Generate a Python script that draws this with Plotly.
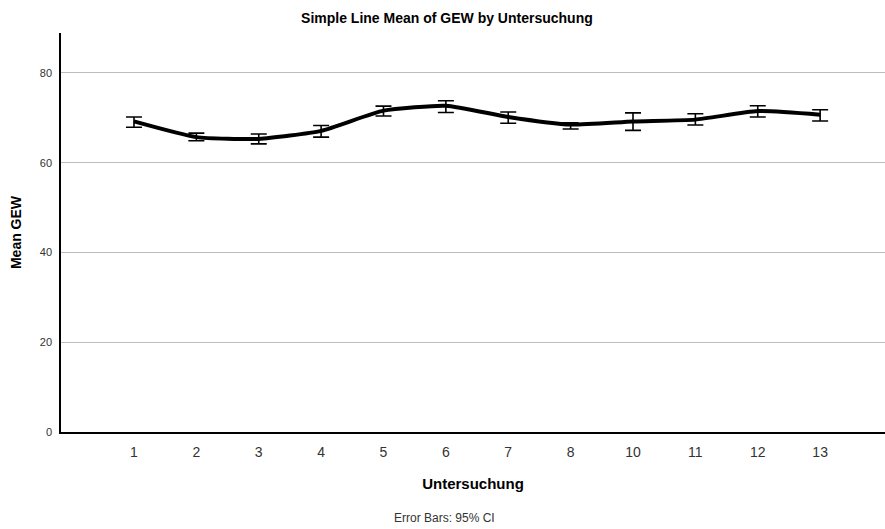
import plotly.graph_objects as go

categories = ["1", "2", "3", "4", "5", "6", "7", "8", "10", "11", "12", "13"]
means = [69.2, 65.7, 65.3, 67.1, 71.6, 72.7, 70.2, 68.5, 69.2, 69.6, 71.5, 70.7]
ci_upper = [70.2, 66.6, 66.4, 68.3, 72.6, 73.8, 71.3, 68.9, 71.1, 70.9, 72.7, 71.8]
ci_lower = [67.9, 64.9, 64.2, 65.7, 70.4, 71.2, 68.8, 67.5, 67.2, 68.4, 70.2, 69.3]
y_ticks = [0, 20, 40, 60, 80]

err_plus = [u - m for u, m in zip(ci_upper, means)]
err_minus = [m - l for m, l in zip(means, ci_lower)]

fig = go.Figure()
fig.add_trace(go.Scatter(
    x=categories, y=means, mode="lines",
    line=dict(color="black", width=4, shape="spline", smoothing=0.5),
    error_y=dict(type="data", symmetric=False, array=err_plus, arrayminus=err_minus,
                 color="black", thickness=1.6, width=8),
    showlegend=False,
))

fig.update_layout(
    width=885, height=529,
    margin=dict(l=61, r=0, t=33, b=97, autoexpand=False),
    paper_bgcolor="white", plot_bgcolor="white",
    font=dict(family="Liberation Sans, Arial, sans-serif", color="#222"),
    title=dict(text="<b>Simple Line Mean of GEW by Untersuchung</b>",
               x=0.505, xanchor="center", yref="container", y=0.966, yanchor="middle",
               font=dict(size=14, color="black")),
    xaxis=dict(
        type="category", range=[-1.17, 12.04], automargin=False,
        showgrid=False, showline=True, linecolor="black", linewidth=1.5,
        ticks="", ticklabelstandoff=6, tickfont=dict(size=14, color="#333"),
        title=dict(text="<b>Untersuchung</b>", font=dict(size=15, color="black"), standoff=20),
    ),
    yaxis=dict(
        range=[0, 88.9], tickvals=y_ticks, automargin=False,
        showgrid=True, gridcolor="#bdbdbd", gridwidth=1,
        zeroline=False, showline=True, linecolor="black", linewidth=1.5,
        ticks="", ticklabelstandoff=5, tickfont=dict(size=11, color="#333"),
        title=dict(text="<b>Mean GEW</b>", font=dict(size=14, color="black"), standoff=15),
    ),
    annotations=[dict(
        text="Error Bars: 95% CI", xref="paper", yref="paper",
        x=0.466, y=-0.2155, xanchor="center", yanchor="middle",
        showarrow=False, font=dict(size=12, color="#333"),
    )],
)

fig.write_html("out.html", config={"displayModeBar": False},
               post_script="document.body.style.margin='0';document.body.style.overflow='hidden';")
